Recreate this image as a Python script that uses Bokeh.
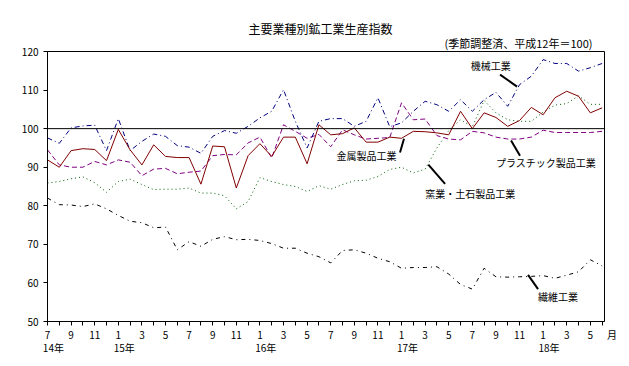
from bokeh.plotting import figure
from bokeh.models import Range1d, FixedTicker, Span, Label, LinearAxis, Title, AllLabels
from bokeh.embed import file_html
from bokeh.resources import INLINE

# ---- data (Jul 2002 = H14/7 ... Jun 2006 = H18/6), seasonally adjusted, 2000 = 100
months = [7, 8, 9, 10, 11, 12, 1, 2, 3, 4, 5, 6,
          7, 8, 9, 10, 11, 12, 1, 2, 3, 4, 5, 6,
          7, 8, 9, 10, 11, 12, 1, 2, 3, 4, 5, 6,
          7, 8, 9, 10, 11, 12, 1, 2, 3, 4, 5, 6]
year_labels = ["14年", "15年", "16年", "17年", "18年"]
year_index = [0, 6, 18, 30, 42]

machinery = [97.6, 96.2, 100.2, 100.7, 100.9, 94.3, 102.6, 94.3, 96.7, 98.6, 98.0, 95.6,
             95.2, 93.6, 98.0, 99.5, 98.8, 100.6, 102.8, 104.5, 110.1, 101.9, 95.0, 101.9,
             102.6, 102.6, 100.6, 101.9, 108.0, 100.5, 101.5, 104.5, 107.1, 106.2, 104.5, 107.5,
             104.5, 107.5, 109.4, 105.8, 111.4, 113.6, 117.9, 116.9, 116.9, 114.9, 115.8, 116.9]
metal = [91.9, 90.0, 94.3, 94.8, 94.6, 91.7, 99.8, 94.5, 90.6, 95.8, 92.8, 92.5,
         92.5, 85.6, 95.5, 95.3, 84.6, 93.0, 96.1, 92.8, 97.8, 97.8, 90.9, 101.0,
         98.4, 98.7, 100.2, 96.5, 96.5, 97.8, 97.5, 99.3, 99.2, 98.9, 98.4, 104.5,
         100.0, 104.1, 102.9, 100.6, 102.1, 105.5, 103.6, 108.0, 109.7, 108.4, 104.1, 105.4]
plastic = [94.5, 90.6, 90.0, 90.0, 91.5, 90.6, 91.9, 91.3, 87.8, 89.5, 89.7, 88.3,
           88.7, 89.0, 93.0, 93.3, 93.2, 96.3, 97.8, 92.4, 101.0, 99.3, 97.5, 98.5,
           95.3, 99.7, 98.4, 97.3, 97.5, 97.7, 106.7, 102.3, 102.5, 98.2, 97.3, 97.1,
           99.3, 98.9, 97.8, 97.3, 97.3, 97.8, 99.6, 99.0, 99.0, 99.0, 99.0, 99.3]
ceramic = [85.9, 86.3, 87.0, 87.5, 86.0, 83.5, 86.3, 86.9, 85.5, 84.2, 84.3, 84.3,
           84.6, 83.3, 83.3, 82.6, 79.2, 81.1, 87.3, 86.3, 85.5, 85.0, 83.7, 85.2,
           84.3, 85.5, 86.5, 86.6, 87.6, 89.4, 90.0, 88.5, 89.5, 95.0, 99.5, 102.3,
           100.5, 107.3, 104.1, 102.3, 101.9, 101.9, 104.3, 106.1, 106.5, 108.5, 106.3, 106.3]
textile = [82.0, 80.3, 80.2, 79.8, 80.5, 79.2, 77.5, 76.0, 75.6, 74.3, 74.5, 68.6,
           70.7, 69.5, 71.3, 72.0, 71.2, 71.3, 71.0, 70.2, 69.0, 69.0, 67.7, 66.8,
           65.2, 68.4, 68.6, 67.7, 66.4, 65.5, 63.8, 64.0, 64.0, 64.2, 62.3, 59.6,
           58.4, 63.8, 61.6, 61.5, 61.6, 61.7, 61.9, 61.2, 62.0, 62.9, 66.0, 64.4]
y_ticks = [50, 60, 70, 80, 90, 100, 110, 120]
title_text = "主要業種別鉱工業生産指数"
subtitle_text = "(季節調整済、平成12年＝100)"
month_unit = "月"

FONT = "Noto Sans CJK JP"
xs = list(range(len(months)))

W, H = 625, 362
p = figure(width=W, height=H, output_backend="svg", toolbar_location=None, title=None,
           x_range=Range1d(0, 47.2), y_range=Range1d(50, 120),
           min_border_left=47, min_border_right=21, min_border_top=51, min_border_bottom=41)
p.xgrid.visible = False
p.ygrid.visible = False
p.outline_line_color = "black"
p.outline_line_width = 1
p.background_fill_color = "white"
p.border_fill_color = "white"

# titles (first added sits next to the frame)
p.add_layout(Title(text=subtitle_text, align="right", offset=12, standoff=2,
                   text_font=FONT, text_font_size="11px", text_font_style="normal",
                   text_color="black"), "above")
p.add_layout(Title(text=title_text, align="left", offset=201, standoff=-10,
                   text_font=FONT, text_font_size="12px", text_font_style="normal",
                   text_color="black"), "above")

# axes
month_text = {i: (str(m) if m % 2 == 1 else "") for i, m in zip(xs, months)}
month_text[xs[-1]] = "\u2003\u2003" + month_unit
p.yaxis.ticker = FixedTicker(ticks=y_ticks)
p.xaxis.ticker = FixedTicker(ticks=xs)
p.xaxis.major_label_overrides = month_text
p.xaxis.major_label_policy = AllLabels()
for ax in (p.xaxis[0], p.yaxis[0]):
    ax.axis_line_color = "black"
    ax.major_tick_line_color = "black"
    ax.major_tick_out = 4
    ax.major_tick_in = 0
    ax.minor_tick_line_color = None
    ax.major_label_text_font = FONT
    ax.major_label_text_font_size = "10px"
    ax.major_label_text_color = "black"
p.yaxis.major_label_standoff = 5
p.xaxis.major_label_standoff = 1

# year row as a second, bare axis below the month axis
year_axis = LinearAxis(ticker=FixedTicker(ticks=[i + 0.5 for i in year_index]),
                       major_label_overrides={i + 0.5: t for i, t in zip(year_index, year_labels)},
                       axis_line_color=None, major_tick_line_color=None,
                       minor_tick_line_color=None, major_tick_out=0, major_tick_in=0,
                       major_label_standoff=-5,
                       major_label_text_font=FONT, major_label_text_font_size="10px",
                       major_label_text_color="black")
p.add_layout(year_axis, "below")

p.add_layout(Span(location=100, dimension="width", line_color="black", line_width=1))

p.line(xs, textile, line_color="black", line_width=1, line_dash="4 4 1 4")
p.line(xs, ceramic, line_color="#006000", line_width=1, line_dash="1 3")
p.line(xs, plastic, line_color="#800080", line_width=1, line_dash="5 3")
p.line(xs, machinery, line_color="#000080", line_width=1, line_dash="5 3 1 3")
p.line(xs, metal, line_color="#800000", line_width=1)

# callouts: text, text-left x, text y, leader x0, y0, x1, y1 (layout only)
callouts = [
    ("機械工業", 35.86, 116.5, 38.35, 114.0, 39.79, 110.9),
    ("金属製品工業", 24.5, 93.0, 29.87, 93.8, 30.21, 97.4),
    ("プラスチック製品工業", 38.0, 91.1, 39.28, 96.9, 40.04, 93.0),
    ("窯業・土石製品工業", 32.0, 83.2, 32.27, 90.65, 33.69, 85.7),
    ("繊維工業", 41.57, 56.4, 40.72, 62.1, 41.57, 58.4),
]
p.segment([c[3] for c in callouts], [c[4] for c in callouts],
          [c[5] for c in callouts], [c[6] for c in callouts],
          line_color="black", line_width=2)
for t, tx, ty, *_ in callouts:
    p.add_layout(Label(x=tx, y=ty, text=t, text_font=FONT, text_font_size="10px",
                       text_align="left", text_baseline="middle", text_color="black"))

open("out.html", "w").write(file_html(p, INLINE))
